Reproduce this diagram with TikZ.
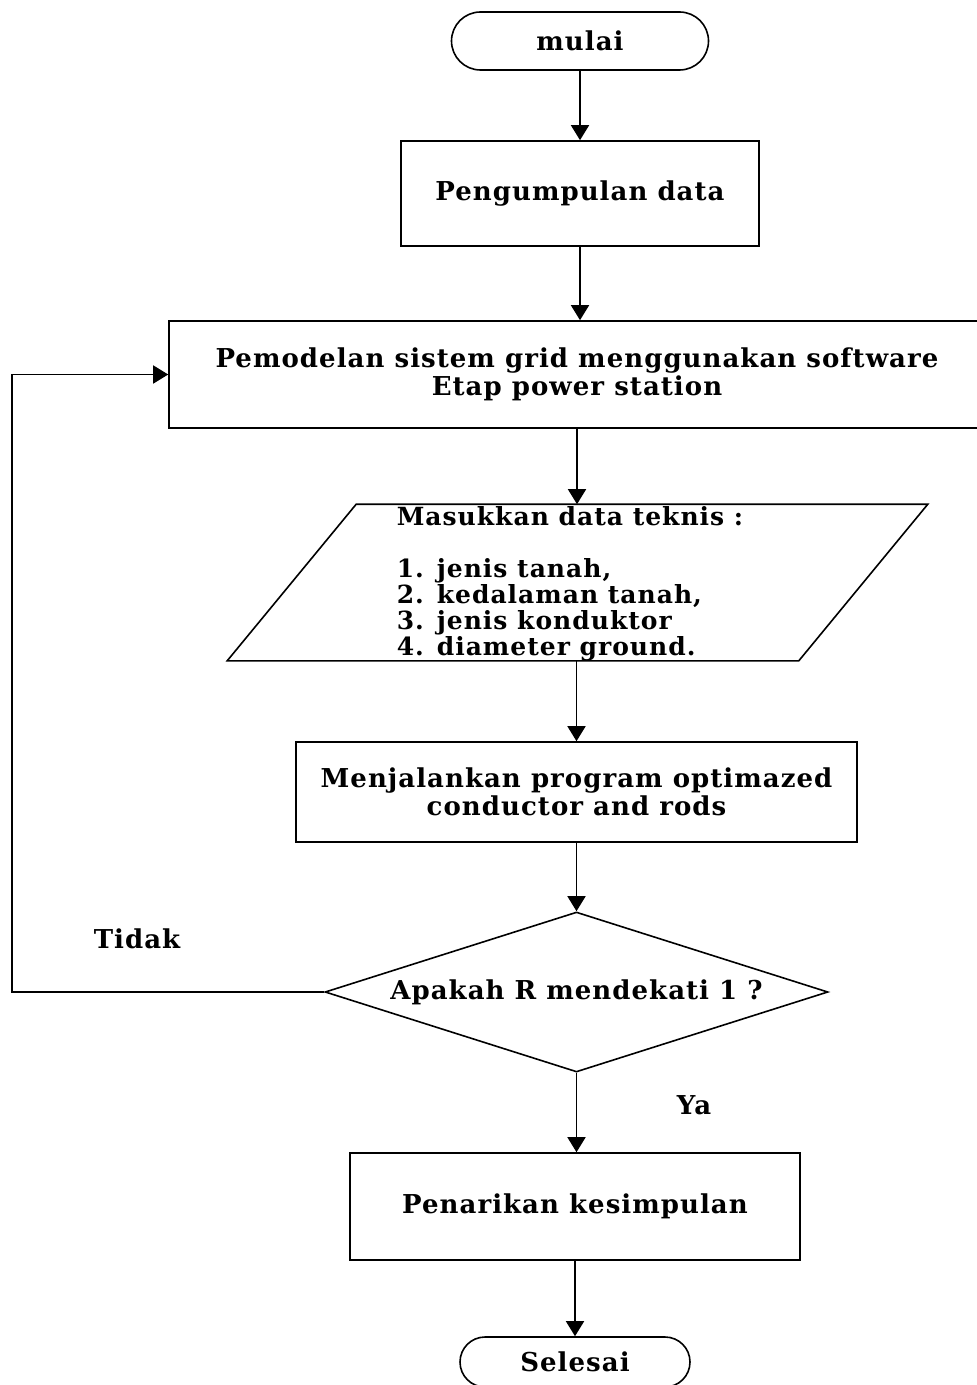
\documentclass[tikz,border=0pt]{standalone}
\usepackage{fontspec}
\setmainfont{DejaVu Serif}[LetterSpace=4]
\usetikzlibrary{positioning,arrows.meta,calc,shapes.geometric,shapes.misc}
\tikzset{
  flowbox/.style={draw, rectangle, align=center, inner sep=0pt,
    font=\fontsize{13}{14}\selectfont\bfseries},
  flowterm/.style={flowbox, rounded rectangle},
  flowio/.style={rectangle, inner sep=0pt, minimum width=285pt, minimum height=77.5pt},
  flowdec/.style={flowbox, diamond, aspect=3.14, minimum width=251.5pt, minimum height=80pt},
  flowarrow/.style={-{Triangle[length=7.5pt,width=9pt]}},
  flowlabel/.style={font=\fontsize{13}{14}\selectfont\bfseries},
}

\begin{document}
\begin{tikzpicture}[x=0.5pt, y=-0.5pt, line width=0.8pt]
  \useasboundingbox (0,0) rectangle (977,1385);

  \node[flowterm, minimum width=128.5pt, minimum height=29pt] (start) at (580,41) {mulai};
  \node[flowbox, minimum width=179pt, minimum height=52.5pt] (data) at (580,193.5) {Pengumpulan data};
  \node[flowbox, minimum width=408pt, minimum height=53.5pt] (model) at (577,374.5)
    {Pemodelan sistem grid menggunakan software\\Etap power station};
  % jajaran genjang input
  \node[flowio] (inp) at (577.5,582.5) {};
  \draw ([xshift=32.25pt]inp.north west) -- ([xshift=32.25pt]inp.north east)
     -- ([xshift=-32.25pt]inp.south east) -- ([xshift=-32.25pt]inp.south west) -- cycle;
  \node[align=left, inner sep=0pt, font=\fontsize{12.5}{13}\selectfont\bfseries] (inptxt) at (570,584)
    {Masukkan data teknis :\\[13pt]1. jenis tanah,\\2. kedalaman tanah,\\3. jenis konduktor\\4. diameter ground.};
  \node[flowbox, minimum width=280.5pt, minimum height=50pt] (run) at (576.5,792)
    {Menjalankan program optimazed\\conductor and rods};
  \node[flowdec] (cek) at (576.5,992) {Apakah R mendekati 1 ?};
  \node[flowbox, minimum width=225pt, minimum height=53.5pt] (hasil) at (575,1206.5) {Penarikan kesimpulan};
  \node[flowterm, minimum width=115pt, minimum height=25pt] (stop) at (575,1362) {Selesai};

  \node[flowlabel] (tidak) at (137,939) {Tidak};
  \node[flowlabel] (ya) at (694,1105) {Ya};
  \coordinate (loop) at (12,992);

  \draw[flowarrow] (start) -- (data);
  \draw[flowarrow] (data) -- (data |- model.north);
  \draw[flowarrow] (model) -- (model |- inp.north);
  \draw[flowarrow] (inp.south -| run) -- (run);
  \draw[flowarrow] (run) -- (run |- cek.north);
  \draw[flowarrow] (cek) -- (cek |- hasil.north);
  \draw[flowarrow] (hasil) -- (hasil |- stop.north);
  \draw[flowarrow] (cek.west) -- (loop) |- (model.west);
\end{tikzpicture}
\end{document}
